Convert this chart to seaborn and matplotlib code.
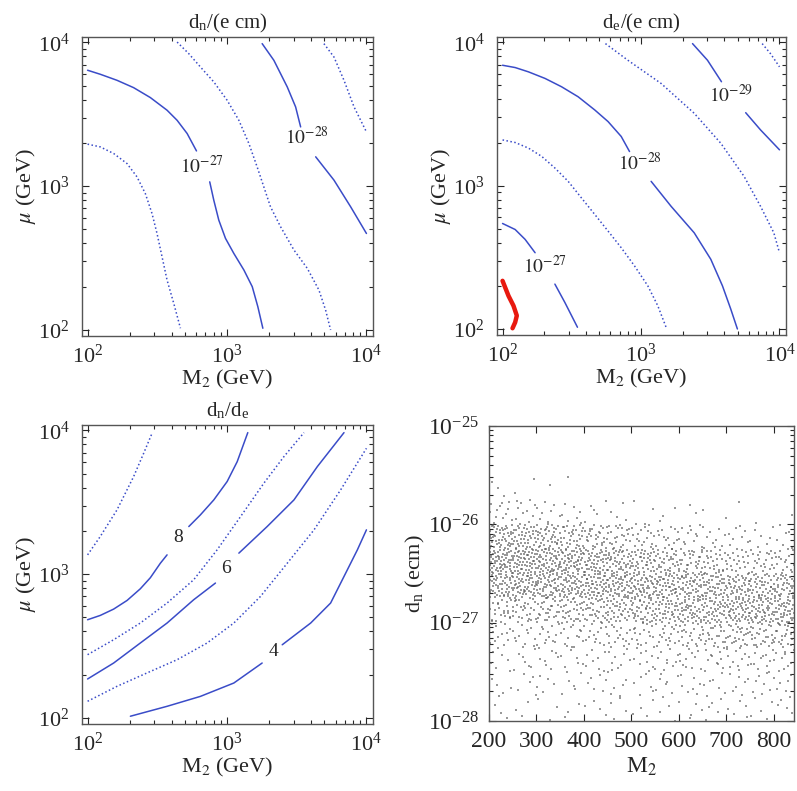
import matplotlib
matplotlib.use("Agg")
import matplotlib.pyplot as plt
import numpy as np
import pandas as pd
import seaborn as sns
from matplotlib.ticker import LogLocator, NullFormatter, MultipleLocator

sns.set_style("ticks")
plt.rcParams["font.family"] = ["Liberation Serif", "DejaVu Serif"]
plt.rcParams["mathtext.fontset"] = "stix"

BLUE = "#3a4cc8"
DOT = (0, (1, 1.6))

# --- panel 1: d_n/(e cm)   (log10 M2, log10 mu) ---
dn_solid27_a = ([2.000, 2.091, 2.211, 2.330, 2.450, 2.570, 2.642, 2.714, 2.781],
                [3.806, 3.778, 3.736, 3.685, 3.616, 3.528, 3.458, 3.366, 3.245])
dn_solid27_b = ([2.876, 2.905, 2.941, 2.989, 3.049, 3.121, 3.181, 3.221, 3.257],
                [3.030, 2.903, 2.764, 2.637, 2.532, 2.417, 2.301, 2.162, 2.012])
dn_dot_1 = ([2.000, 2.091, 2.187, 2.283, 2.354, 2.414, 2.462, 2.498, 2.534, 2.570, 2.618, 2.666],
            [3.292, 3.273, 3.227, 3.157, 3.065, 2.949, 2.810, 2.671, 2.509, 2.347, 2.185, 2.012])
dn_dot_2 = ([2.642, 2.726, 2.809, 2.905, 3.001, 3.085, 3.157, 3.216, 3.264, 3.312, 3.384, 3.480, 3.576, 3.659, 3.707, 3.743],
            [4.002, 3.921, 3.829, 3.725, 3.597, 3.458, 3.296, 3.134, 2.995, 2.856, 2.718, 2.556, 2.428, 2.278, 2.139, 2.000])
dn_solid28_a = ([3.252, 3.336, 3.432, 3.492, 3.528], [3.991, 3.875, 3.690, 3.551, 3.412])
dn_solid28_b = ([3.636, 3.767, 3.887, 4.000], [3.204, 3.042, 2.856, 2.671])
dn_dot_3 = ([3.695, 3.767, 3.839, 3.911, 4.000], [3.991, 3.898, 3.736, 3.551, 3.377])
dn_labels = [(2.821, 3.141, r"$10^{-27}$"), (3.576, 3.343, r"$10^{-28}$")]

# --- panel 2: d_e/(e cm) ---
de_solid28_a = ([2.000, 2.091, 2.187, 2.307, 2.426, 2.546, 2.666, 2.762, 2.857, 2.917],
                [3.840, 3.824, 3.794, 3.748, 3.690, 3.620, 3.528, 3.447, 3.343, 3.238])
de_solid28_b = ([3.073, 3.217, 3.384, 3.504, 3.588, 3.648, 3.696], [3.030, 2.856, 2.671, 2.486, 2.301, 2.139, 2.000])
de_dot_1 = ([2.000, 2.091, 2.187, 2.283, 2.378, 2.474, 2.570, 2.666, 2.762, 2.857, 2.953, 3.049, 3.121, 3.181],
            [3.319, 3.301, 3.262, 3.204, 3.123, 3.030, 2.914, 2.799, 2.683, 2.567, 2.440, 2.301, 2.162, 2.012])
de_solid27_a = ([2.000, 2.091, 2.163, 2.235], [2.736, 2.694, 2.625, 2.532])
de_solid27_b = ([2.378, 2.450, 2.541], [2.313, 2.185, 2.012])
de_dot_2 = ([2.743, 2.905, 3.145, 3.384, 3.576, 3.744, 3.863, 3.959, 4.000],
            [3.991, 3.875, 3.713, 3.505, 3.296, 3.065, 2.856, 2.671, 2.532])
de_solid29_a = ([3.372, 3.480, 3.581], [3.991, 3.875, 3.725])
de_solid29_b = ([3.756, 3.863, 4.000], [3.509, 3.389, 3.250])
de_dot_3 = ([3.875, 3.935, 4.000], [3.991, 3.921, 3.829])
de_red = ([2.000, 2.043, 2.079, 2.103, 2.091, 2.072], [2.336, 2.231, 2.162, 2.093, 2.046, 2.005])
de_labels = [(2.989, 3.157, r"$10^{-28}$"), (3.653, 3.632, r"$10^{-29}$"), (2.307, 2.440, r"$10^{-27}$")]

# --- panel 3: d_n/d_e ---
ratio_dot_1 = ([2.000, 2.091, 2.211, 2.330, 2.402, 2.462], [3.134, 3.262, 3.447, 3.678, 3.840, 3.979])
ratio_8_a = ([2.000, 2.091, 2.187, 2.283, 2.378, 2.450, 2.522, 2.570],
             [2.683, 2.713, 2.757, 2.817, 2.898, 2.975, 3.076, 3.134])
ratio_8_b = ([2.726, 2.809, 2.905, 3.001, 3.073, 3.149], [3.331, 3.412, 3.516, 3.644, 3.782, 3.984])
ratio_dot_2 = ([2.000, 2.187, 2.378, 2.570, 2.761, 2.929, 3.097, 3.264, 3.408, 3.552],
               [2.440, 2.544, 2.660, 2.799, 2.961, 3.169, 3.400, 3.632, 3.817, 3.984])
ratio_6_a = ([2.000, 2.187, 2.378, 2.570, 2.761, 2.917], [2.271, 2.382, 2.521, 2.660, 2.822, 2.938])
ratio_6_b = ([3.085, 3.288, 3.480, 3.648, 3.839], [3.146, 3.331, 3.516, 3.748, 3.984])
ratio_dot_3 = ([2.000, 2.211, 2.426, 2.642, 2.857, 3.049, 3.240, 3.432, 3.624, 3.815, 4.000],
               [2.116, 2.220, 2.313, 2.405, 2.521, 2.660, 2.845, 3.076, 3.308, 3.586, 3.875])
ratio_4_a = ([2.307, 2.570, 2.809, 3.049, 3.252], [2.012, 2.081, 2.150, 2.243, 2.382])
ratio_4_b = ([3.396, 3.600, 3.743, 3.863, 3.935, 4.000], [2.509, 2.660, 2.799, 3.030, 3.169, 3.308])
ratio_labels = [(2.649, 3.257, "8"), (2.996, 3.042, "6"), (3.331, 2.463, "4")]

# --- panel 4: scatter, point counts per cell ---
m2_edges = [200, 250, 300, 350, 400, 450, 500, 550, 600, 650, 700, 750, 800, 850]
logdn_edges = [-28.0, -27.75, -27.5, -27.25, -27.0, -26.75, -26.5, -26.25, -26.0, -25.75, -25.5]
cell_counts = [  # rows bottom (-28) to top (-25.5), columns by M2 bin
    [3, 3, 3, 3, 4, 4, 4, 4, 5, 5, 5, 5, 5],
    [5, 5, 5, 5, 6, 6, 6, 7, 7, 7, 7, 7, 7],
    [7, 7, 8, 8, 8, 9, 9, 10, 11, 11, 12, 12, 12],
    [12, 12, 13, 14, 15, 16, 17, 18, 22, 24, 26, 26, 26],
    [25, 26, 28, 30, 32, 35, 38, 40, 44, 45, 48, 48, 48],
    [50, 52, 52, 52, 52, 52, 50, 48, 46, 45, 44, 42, 42],
    [60, 58, 55, 52, 48, 45, 40, 35, 30, 26, 22, 20, 20],
    [45, 42, 38, 32, 28, 22, 18, 15, 12, 10, 8, 7, 7],
    [12, 10, 9, 7, 5, 4, 3, 3, 2, 2, 1, 1, 1],
    [3, 2, 1, 1, 0, 0, 0, 0, 0, 0, 0, 0, 0],
]


def halton(i, base):
    f, r = 1.0, 0.0
    while i > 0:
        f /= base
        r += f * (i % base)
        i //= base
    return r


def scatter_frame():
    xs, ys = [], []
    k = 1
    for r, row in enumerate(cell_counts):
        for c, n in enumerate(row):
            x0, x1 = m2_edges[c], m2_edges[c + 1]
            y0, y1 = logdn_edges[r], logdn_edges[r + 1]
            for _ in range(n):
                xs.append(x0 + halton(k, 2) * (x1 - x0))
                ys.append(10 ** (y0 + halton(k, 3) * (y1 - y0)))
                k += 1
    return pd.DataFrame({"M2": xs, "dn": ys})


def draw_curve(ax, curve, style="-", color=BLUE, lw=1.1):
    lx, ly = curve
    sns.lineplot(x=10 ** np.array(lx), y=10 ** np.array(ly), sort=False, estimator=None,
                 ax=ax, color=color, linestyle=style, linewidth=lw)


def setup_log_panel(ax, title):
    ax.set_xscale("log")
    ax.set_yscale("log")
    ax.set_xlim(10 ** 1.96, 10 ** 4.047)
    ax.set_ylim(10 ** 1.958, 10 ** 4.037)
    for axis in (ax.xaxis, ax.yaxis):
        axis.set_major_locator(LogLocator(base=10, numticks=5))
        axis.set_minor_locator(LogLocator(base=10, subs=np.arange(2, 10), numticks=20))
        axis.set_minor_formatter(NullFormatter())
    ax.tick_params(which="both", direction="in", top=True, right=True, labelsize=16, width=0.8)
    ax.tick_params(which="major", length=5)
    ax.tick_params(axis="x", which="major", pad=6)
    ax.tick_params(axis="y", which="major", pad=9)
    ax.tick_params(which="minor", length=3)
    ax.set_xlabel(r"M$_2$ (GeV)", fontsize=16, labelpad=0)
    ax.set_ylabel(r"$\mu$ (GeV)", fontsize=16, labelpad=0)
    ax.set_title(title, fontsize=15, pad=6)
    for s in ax.spines.values():
        s.set_linewidth(1.0)
        s.set_color("#555555")


def put_labels(ax, labels):
    for lx, ly, txt in labels:
        ax.text(10 ** lx, 10 ** ly, txt, ha="center", va="center", fontsize=14)


fig = plt.figure(figsize=(7.97, 7.91), dpi=100)
ax1 = fig.add_axes([0.1029, 0.5752, 0.3651, 0.378])
ax2 = fig.add_axes([0.6236, 0.5765, 0.3626, 0.3767])
ax3 = fig.add_axes([0.1029, 0.0847, 0.3651, 0.378])
ax4 = fig.add_axes([0.6135, 0.0885, 0.3827, 0.373])

# panel 1
for cv in (dn_solid27_a, dn_solid27_b, dn_solid28_a, dn_solid28_b):
    draw_curve(ax1, cv)
for cv in (dn_dot_1, dn_dot_2, dn_dot_3):
    draw_curve(ax1, cv, style=DOT)
setup_log_panel(ax1, r"d$_\mathregular{n}$/(e cm)")
put_labels(ax1, dn_labels)

# panel 2
for cv in (de_solid28_a, de_solid28_b, de_solid27_a, de_solid27_b, de_solid29_a, de_solid29_b):
    draw_curve(ax2, cv)
for cv in (de_dot_1, de_dot_2, de_dot_3):
    draw_curve(ax2, cv, style=DOT)
draw_curve(ax2, de_red, color="#e8190f", lw=3.2)
setup_log_panel(ax2, r"d$_\mathregular{e}$/(e cm)")
put_labels(ax2, de_labels)

# panel 3
for cv in (ratio_8_a, ratio_8_b, ratio_6_a, ratio_6_b, ratio_4_a, ratio_4_b):
    draw_curve(ax3, cv)
for cv in (ratio_dot_1, ratio_dot_2, ratio_dot_3):
    draw_curve(ax3, cv, style=DOT)
setup_log_panel(ax3, r"d$_\mathregular{n}$/d$_\mathregular{e}$")
put_labels(ax3, ratio_labels)

# panel 4
pts = scatter_frame()
sns.scatterplot(data=pts, x="M2", y="dn", ax=ax4, s=2.0, color="#555555", alpha=0.6,
                linewidth=0, marker="s", legend=False)
ax4.set_yscale("log")
ax4.set_xlim(200, 843)
ax4.set_ylim(1e-28, 1e-25)
ax4.xaxis.set_major_locator(MultipleLocator(100))
ax4.yaxis.set_major_locator(LogLocator(base=10, numticks=5))
ax4.yaxis.set_minor_locator(LogLocator(base=10, subs=np.arange(2, 10), numticks=20))
ax4.yaxis.set_minor_formatter(NullFormatter())
ax4.tick_params(which="both", direction="in", top=True, right=True, labelsize=17, width=0.8)
ax4.tick_params(which="major", length=5, pad=7)
ax4.tick_params(which="minor", length=3)
ax4.set_xlabel(r"M$_2$", fontsize=17, labelpad=3)
ax4.set_ylabel(r"d$_\mathregular{n}$ (ecm)", fontsize=16, labelpad=1)
for s in ax4.spines.values():
    s.set_linewidth(1.0)
    s.set_color("#555555")

fig.savefig("out.png", dpi=100, facecolor="white")
